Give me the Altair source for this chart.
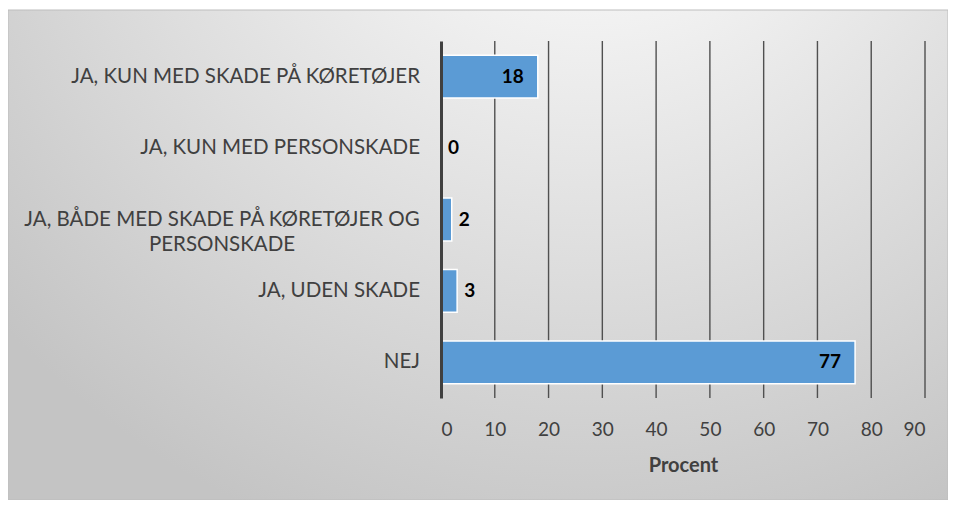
import altair as alt
import pandas as pd

categories = [
    "JA, KUN MED SKADE PÅ KØRETØJER",
    "JA, KUN MED PERSONSKADE",
    "JA, BÅDE MED SKADE PÅ KØRETØJER OG PERSONSKADE",
    "JA, UDEN SKADE",
    "NEJ",
]
display_labels = [
    "JA, KUN MED SKADE PÅ KØRETØJER",
    "JA, KUN MED PERSONSKADE",
    "JA, BÅDE MED SKADE PÅ KØRETØJER OG\nPERSONSKADE",
    "JA, UDEN SKADE",
    "NEJ",
]
values = [18, 0, 2, 3, 77]
x_ticks = [0, 10, 20, 30, 40, 50, 60, 70, 80, 90]
x_title = "Procent"

FONT = "Lato"
TXT = "#404040"

df = pd.DataFrame({"cat": categories, "lab": display_labels, "v": values})
df["multi"] = df["lab"].str.contains("\n")
grid_df = pd.DataFrame({"t": x_ticks[1:]})
bg_df = pd.DataFrame({"a": [0]})

W, H = 484, 357
PL, PT = 433, 33
PR, PB = 23, 102

xscale = alt.Scale(domain=[0, 90], nice=False)
yscale = alt.Scale(paddingInner=0.4, paddingOuter=0.2)

ycommon = alt.Y(
    "cat:N", sort=categories, scale=yscale,
    axis=alt.Axis(labels=False, ticks=False, title=None, domainColor=TXT,
                  domainWidth=3, zindex=1),
)

bg = alt.Chart(bg_df).mark_rect(
    stroke="#bdbdbd", strokeWidth=1,
    color={
        "gradient": "radial",
        "x1": 0.62, "y1": 0.0, "x2": 0.62, "y2": 0.0,
        "r1": 0, "r2": 0.85,
        "stops": [
            {"offset": 0, "color": "#ffffff"},
            {"offset": 0.25, "color": "#f4f4f4"},
            {"offset": 1, "color": "#c4c4c4"},
        ],
    },
).encode(
    x=alt.value(-PL), x2=alt.value(W + PR),
    y=alt.value(-PT + 2), y2=alt.value(H + PB),
)

grid = alt.Chart(grid_df).mark_rule(color="#505050", strokeWidth=1.4).encode(
    x=alt.X("t:Q", scale=xscale)
)

bars = alt.Chart(df).mark_bar(color="#5B9BD5", stroke="white", strokeWidth=1.5).encode(
    x=alt.X("v:Q", scale=xscale,
            axis=alt.Axis(values=x_ticks, grid=False, ticks=False, domain=False,
                          labelFont=FONT, labelFontSize=19, labelColor=TXT,
                          labelPadding=22, title=x_title, titleFont=FONT,
                          titleFontSize=20, titleFontWeight="bold",
                          titleColor=TXT, titlePadding=16, zindex=1)),
    y=ycommon,
)

inside = alt.Chart(df).transform_filter("datum.v >= 10").mark_text(
    align="right", baseline="middle", dx=-14, font=FONT, fontSize=19,
    fontWeight="bold", color="black",
).encode(x=alt.X("v:Q", scale=xscale), y=ycommon, text="v:Q")

outside = alt.Chart(df).transform_filter("datum.v < 10").mark_text(
    align="left", baseline="middle", dx=7, font=FONT, fontSize=19,
    fontWeight="bold", color="black",
).encode(x=alt.X("v:Q", scale=xscale), y=ycommon, text="v:Q")

ylab_single = alt.Chart(df).transform_filter("!datum.multi").mark_text(
    align="right", baseline="middle", dx=-21, font=FONT, fontSize=20.5, color=TXT,
).encode(x=alt.value(0), y=ycommon, text="lab:N")

ylab_multi = alt.Chart(df).transform_filter("datum.multi").mark_text(
    align="center", baseline="middle", dx=-219, font=FONT, fontSize=20.5,
    color=TXT, lineBreak="\n", lineHeight=25,
).encode(x=alt.value(0), y=ycommon, text="lab:N")

chart = alt.layer(bg, grid, bars, inside, outside, ylab_single, ylab_multi).properties(
    width=W, height=H,
    autosize=alt.AutoSizeParams(type="none"),
    padding={"left": PL, "top": PT, "right": PR, "bottom": PB},
    background="white",
).configure_view(stroke=None, fill=None)

chart.save("out.html", embed_options={"renderer": "svg", "actions": False})
